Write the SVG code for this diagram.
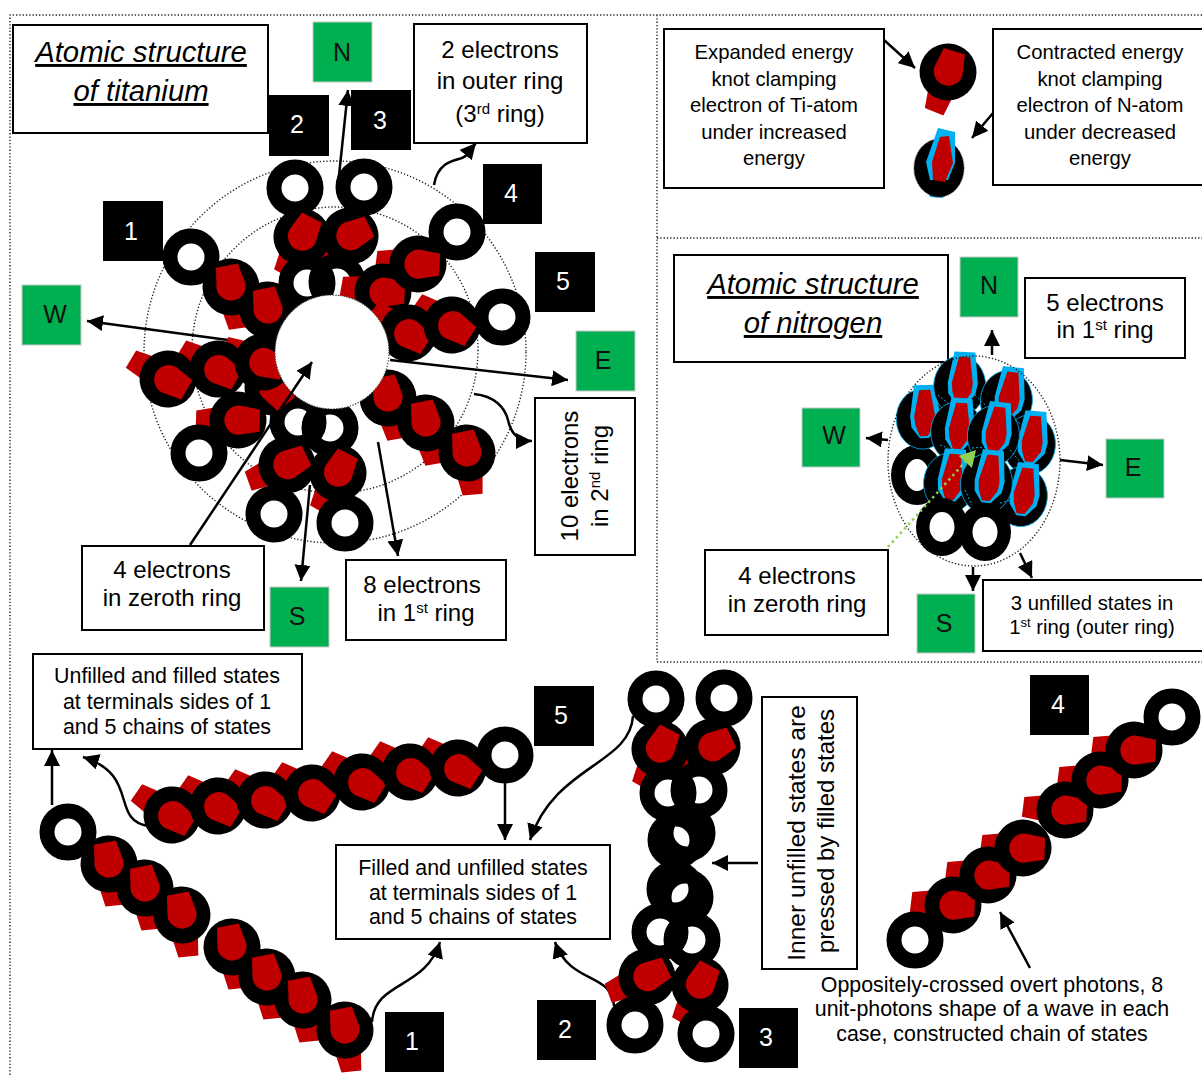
<svg xmlns="http://www.w3.org/2000/svg" width="1202" height="1076" viewBox="0 0 1202 1076">
<style>
text{font-family:"Liberation Sans",Arial,sans-serif;fill:#000;text-anchor:middle}
.b{fill:#fff;stroke:#000;stroke-width:2}
.g{fill:#00b050;stroke:#c8c8c8;stroke-width:1}
.k{fill:#000}
.w{fill:#fff;font-size:25px}
.gt{font-size:25px;fill:#111}
.t24{font-size:24px}
.t20{font-size:20.3px}
.t21{font-size:21.4px}
.h{font-size:29.3px;font-style:italic;text-decoration:underline}
.a{fill:none;stroke:#000;stroke-width:2.500;marker-end:url(#ah)}
.d{fill:none;stroke:#222;stroke-width:1.400;stroke-dasharray:1.300 2}
</style>
<defs>
<marker id="ah" markerUnits="userSpaceOnUse" markerWidth="18" markerHeight="16" refX="16" refY="8" orient="auto"><path d="M0,0L16,8L0,16z" fill="#000"/></marker>
<marker id="ag" markerUnits="userSpaceOnUse" markerWidth="18" markerHeight="18" refX="16" refY="9" orient="auto"><path d="M0,0L16,9L0,18z" fill="#92d050"/></marker>
<path id="t" d="M-13,18L-8,42L12,42L14,18z" fill="#c00000"/>
<g id="f"><circle r="28.500" fill="#000"/><path d="M-14,-20L8,-23L14.500,-3A14.500,14.500 0 0 1 -14.500,1z" fill="#c00000"/></g>
<circle id="o" r="21" fill="none" stroke="#000" stroke-width="15"/>
<circle id="h" r="14" fill="#fff"/>
<g id="n"><ellipse cx="-3" cy="6" rx="26" ry="30" fill="#000" stroke="#00b0f0" stroke-width=".8"/><path d="M-10,-28L11,-28L15,3L13,14L3,25L-6,25L-14,14L-15,3z" fill="#00b0f0"/><path d="M-5,-23L6,-23L10,3L9,12L2,23L-6,23L-10,12L-11,3z" fill="#c00000"/></g>
</defs>
<rect width="1202" height="1076" fill="#fff"/>
<g id="frame">
<path class="d" d="M1202,15H10V1076M657,15V662M657,238H1202M657,662H1202"/>
</g>
<g id="titanium-orbits">
<circle class="d" cx="335" cy="352" r="191"/>
<circle class="d" cx="335" cy="350" r="143"/>
</g>
<g id="connectors-under">
<path class="a" d="M338,185L348,90"/>
<path class="a" d="M228,340L87,321"/>
<path class="a" d="M390,360L568,380"/>
<path class="a" d="M310,485L301,581"/>
<path class="a" d="M378,442L398,556"/>
<path class="a" d="M434,185C438,160 458,160 462,158C470,155 470,150 476,143"/>
<path class="a" d="M474,394C495,396 505,408 508,420C511,435 520,441 532,441"/>
</g>
<g id="ti-chain-1">
<use href="#t" transform="translate(231,287) rotate(-8)"/><use href="#t" transform="translate(268,310) rotate(-8)"/>
<use href="#h" x="191" y="257"/><use href="#o" x="191" y="257"/>
<use href="#f" transform="translate(231,287) rotate(-3)"/><use href="#f" transform="translate(268,310) rotate(-3)"/>
</g>
<g id="ti-chain-2">
<use href="#t" transform="translate(302,237) rotate(30)"/><use href="#t" transform="translate(350,236) rotate(70)"/>
<use href="#h" x="295" y="188"/><use href="#o" x="295" y="188"/><use href="#h" x="364" y="187"/><use href="#o" x="364" y="187"/>
<use href="#h" x="307" y="283"/><use href="#h" x="337" y="282"/><use href="#o" x="307" y="283"/><use href="#o" x="337" y="282"/>
<use href="#f" transform="translate(302,237) rotate(35)"/><use href="#f" transform="translate(350,236) rotate(72)"/>
</g>
<g id="ti-chain-3">
<use href="#t" transform="translate(418,264) rotate(97)"/><use href="#t" transform="translate(383,292) rotate(100)"/>
<use href="#h" x="457" y="232"/><use href="#o" x="457" y="232"/>
<use href="#f" transform="translate(383,292) rotate(100)"/><use href="#f" transform="translate(418,264) rotate(100)"/>
</g>
<g id="ti-chain-4">
<use href="#t" transform="translate(408,333) rotate(125)"/><use href="#t" transform="translate(452,325) rotate(125)"/>
<use href="#h" x="502" y="317"/><use href="#o" x="502" y="317"/>
<use href="#f" transform="translate(408,333) rotate(130)"/><use href="#f" transform="translate(452,325) rotate(130)"/>
</g>
<g id="ti-chain-5">
<use href="#t" transform="translate(388,398) rotate(-10)"/><use href="#t" transform="translate(426,423) rotate(-10)"/><use href="#t" transform="translate(467,453) rotate(-5)"/>
<use href="#f" transform="translate(388,398) rotate(-3)"/><use href="#f" transform="translate(426,423) rotate(-3)"/><use href="#f" transform="translate(467,453) rotate(-3)"/>
</g>
<g id="ti-chain-6">
<use href="#t" transform="translate(287,465) rotate(70)"/><use href="#t" transform="translate(338,473) rotate(30)"/>
<use href="#h" x="298" y="422"/><use href="#h" x="330" y="428"/><use href="#o" x="298" y="422"/><use href="#o" x="330" y="428"/>
<use href="#h" x="274" y="514"/><use href="#o" x="274" y="514"/><use href="#h" x="345" y="523"/><use href="#o" x="345" y="523"/>
<use href="#f" transform="translate(287,465) rotate(72)"/><use href="#f" transform="translate(338,473) rotate(35)"/>
</g>
<g id="ti-chain-7">
<use href="#t" transform="translate(168,379) rotate(121)"/><use href="#t" transform="translate(218,369) rotate(121)"/><use href="#t" transform="translate(263,362) rotate(115)"/>
<use href="#f" transform="translate(168,379) rotate(128)"/><use href="#f" transform="translate(273,387) rotate(150)"/><use href="#f" transform="translate(218,369) rotate(128)"/><use href="#f" transform="translate(263,362) rotate(118)"/>
</g>
<g id="ti-chain-8">
<use href="#t" transform="translate(238,420) rotate(92)"/>
<use href="#h" x="199" y="453"/><use href="#o" x="199" y="453"/>
<use href="#f" transform="translate(238,420) rotate(100)"/>
</g>
<g id="ti-core"><circle cx="332" cy="352" r="57" fill="#fff" stroke="#444" stroke-width="1.200" stroke-dasharray="1.300 1.500"/></g>
<g id="connectors-top">
<path class="a" d="M190,545L312,362"/>
<path class="a" d="M884,40L915,68"/>
<path class="a" d="M993,113L972,138"/>
</g>
<g id="box-title-ti"><rect class="b" x="13" y="25" width="255" height="108"/><text class="h" x="141" y="62">Atomic structure</text><text class="h" x="141" y="101">of titanium</text></g>
<g id="green-n"><rect class="g" x="313" y="22" width="59" height="60"/><text class="gt" x="342" y="61">N</text></g>
<g id="label-2"><rect class="k" x="269" y="95" width="60" height="61"/><text class="w" x="297" y="133">2</text></g>
<g id="label-3"><rect class="k" x="351" y="90" width="60" height="60"/><text class="w" x="380" y="129">3</text></g>
<g id="label-1"><rect class="k" x="103" y="201" width="60" height="60"/><text class="w" x="131" y="240">1</text></g>
<g id="label-4"><rect class="k" x="483" y="164" width="59" height="60"/><text class="w" x="511" y="202">4</text></g>
<g id="label-5"><rect class="k" x="535" y="252" width="60" height="60"/><text class="w" x="563" y="290">5</text></g>
<g id="box-2e"><rect class="b" x="414" y="24" width="173" height="119"/><text class="t24" x="500" y="58">2 electrons</text><text class="t24" x="500" y="89">in outer ring</text><text class="t24" x="500" y="122">(3<tspan font-size="15" dy="-8">rd</tspan><tspan dy="8"> ring)</tspan></text></g>
<g id="green-w"><rect class="g" x="22" y="285" width="59" height="60"/><text class="gt" x="55" y="323">W</text></g>
<g id="green-e"><rect class="g" x="576" y="331" width="59" height="60"/><text class="gt" x="603" y="369">E</text></g>
<g id="green-s"><rect class="g" x="270" y="587" width="59" height="60"/><text class="gt" x="297" y="625">S</text></g>
<g id="box-10e"><rect class="b" x="535" y="398" width="100" height="157"/><text class="t24" transform="translate(578,476) rotate(-90)">10 electrons</text><text class="t24" transform="translate(608,476) rotate(-90)">in 2<tspan font-size="15" dy="-8">nd</tspan><tspan dy="8"> ring</tspan></text></g>
<g id="box-4e"><rect class="b" x="82" y="546" width="182" height="84"/><text class="t24" x="172" y="578">4 electrons</text><text class="t24" x="172" y="606">in zeroth ring</text></g>
<g id="box-8e"><rect class="b" x="346" y="560" width="160" height="80"/><text class="t24" x="422" y="593">8 electrons</text><text class="t24" x="426" y="621">in 1<tspan font-size="15" dy="-8">st</tspan><tspan dy="8"> ring</tspan></text></g>

<g id="box-expanded"><rect class="b" x="664" y="29" width="220" height="159"/><text class="t20" x="774" y="59">Expanded energy</text><text class="t20" x="774" y="86">knot clamping</text><text class="t20" x="774" y="112">electron of Ti-atom</text><text class="t20" x="774" y="139">under increased</text><text class="t20" x="774" y="165">energy</text></g>
<g id="box-contracted"><rect class="b" x="993" y="29" width="212" height="156"/><text class="t20" x="1100" y="59">Contracted energy</text><text class="t20" x="1100" y="86">knot clamping</text><text class="t20" x="1100" y="112">electron of N-atom</text><text class="t20" x="1100" y="139">under decreased</text><text class="t20" x="1100" y="165">energy</text></g>
<g id="state-expanded"><use href="#t" transform="translate(948,72) rotate(22)"/><use href="#f" transform="translate(948,72) rotate(25)"/></g>
<g id="state-contracted"><path d="M927,190L945,192L943,198L930,197z" fill="#00b0f0"/><ellipse cx="939" cy="168" rx="25" ry="29" fill="#000" stroke="#333" stroke-dasharray="1 1"/><path d="M938,128L955,132L955,163L948,180L930,180L926,162z" fill="#00b0f0"/><path d="M940,137L949,136L953,163L945,182L933,180L932,162z" fill="#c00000"/></g>

<g id="box-title-n"><rect class="b" x="674" y="255" width="274" height="107"/><text class="h" x="813" y="294">Atomic structure</text><text class="h" x="813" y="333">of nitrogen</text></g>
<g id="green-n2"><rect class="g" x="960" y="257" width="58" height="60"/><text class="gt" x="989" y="294">N</text></g>
<g id="box-5e"><rect class="b" x="1025" y="278" width="160" height="80"/><text class="t24" x="1105" y="311">5 electrons</text><text class="t24" x="1105" y="338">in 1<tspan font-size="15" dy="-8">st</tspan><tspan dy="8"> ring</tspan></text></g>
<g id="green-w2"><rect class="g" x="802" y="408" width="58" height="59"/><text class="gt" x="834" y="444">W</text></g>
<g id="green-e2"><rect class="g" x="1106" y="439" width="58" height="59"/><text class="gt" x="1133" y="476">E</text></g>
<g id="green-s2"><rect class="g" x="917" y="594" width="58" height="59"/><text class="gt" x="944" y="632">S</text></g>
<g id="box-4e2"><rect class="b" x="705" y="550" width="183" height="85"/><text class="t24" x="797" y="584">4 electrons</text><text class="t24" x="797" y="612">in zeroth ring</text></g>
<g id="box-3u"><rect class="b" x="983" y="580" width="221" height="71"/><text class="t20" x="1092" y="610">3 unfilled states in</text><text class="t20" x="1092" y="634">1<tspan font-size="13" dy="-7">st</tspan><tspan dy="7"> ring (outer ring)</tspan></text></g>
<g id="n-connectors">
<path class="a" d="M992,355L992,330"/>
<path class="a" d="M888,440L866,438"/>
<path class="a" d="M1060,460L1103,465"/>
<path class="a" d="M973,567L973,591"/>
<path class="a" d="M1020,553L1032,578"/>
</g>
<g id="nitrogen-atom">
<ellipse cx="917" cy="475" rx="26" ry="30" fill="#000"/><ellipse cx="917" cy="475" rx="12" ry="16" fill="#fff"/>
<use href="#n" transform="translate(925,413) rotate(-2)"/>
<use href="#n" transform="translate(963,380) rotate(3)"/>
<use href="#n" transform="translate(1010,395) rotate(6)"/>
<use href="#n" transform="translate(1033,439) rotate(5)"/>
<use href="#n" transform="translate(960,426) rotate(3)"/>
<use href="#n" transform="translate(997,430) rotate(6)"/>
<use href="#n" transform="translate(953,477) rotate(4)"/>
<use href="#n" transform="translate(1025,491) rotate(6)"/>
<use href="#n" transform="translate(990,478) rotate(6)"/>
<ellipse cx="942" cy="527" rx="26" ry="29" fill="#000"/><ellipse cx="942" cy="527" rx="12.500" ry="15" fill="#fff"/>
<ellipse cx="985" cy="532" rx="26" ry="29" fill="#000"/><ellipse cx="985" cy="532" rx="12.500" ry="15" fill="#fff"/>
<path d="M938,395L950,405M975,395L985,405M940,445L948,448M972,448L985,447M1010,450L1020,462M1015,420L1022,425M965,490L972,505M1000,503L1012,500" fill="none" stroke="#00b0f0" stroke-width="1" stroke-dasharray="2 2"/>
<ellipse class="d" cx="974" cy="461" rx="86" ry="105"/>
<path d="M888,547L976,450" fill="none" stroke="#92d050" stroke-width="2.500" stroke-dasharray="2.500 3.500" marker-end="url(#ag)"/>
</g>

<g id="bottom-connectors">
<path class="a" d="M52,805L52,750"/>
<path class="a" d="M148,826C110,820 140,775 83,757"/>
<path class="a" d="M505,757L505,840"/>
<path class="a" d="M633,716C630,765 555,765 530,840"/>
<path class="a" d="M372,1022C375,980 425,990 440,942"/>
<path class="a" d="M614,1006C612,972 570,985 555,942"/>
<path class="a" d="M758,863L712,863"/>
<path class="a" d="M1030,968L1000,912"/>
</g>
<g id="box-unfilled"><rect class="b" x="33" y="654" width="269" height="95"/><text class="t21" x="167" y="683">Unfilled and filled states</text><text class="t21" x="167" y="709">at terminals sides of 1</text><text class="t21" x="167" y="734">and 5 chains of states</text></g>
<g id="label-b5"><rect class="k" x="534" y="686" width="60" height="60"/><text class="w" x="561" y="724">5</text></g>
<g id="box-filled"><rect class="b" x="336" y="845" width="274" height="94"/><text class="t21" x="473" y="875">Filled and unfilled states</text><text class="t21" x="473" y="900">at terminals sides of 1</text><text class="t21" x="473" y="924">and 5 chains of states</text></g>
<g id="box-inner"><rect class="b" x="762" y="697" width="95" height="272"/><text style="font-size:24.600px" transform="translate(805,833) rotate(-90)">Inner unfilled states are</text><text class="t24" transform="translate(834,831) rotate(-90)">pressed by filled states</text></g>
<g id="label-b4"><rect class="k" x="1030" y="675" width="59" height="60"/><text class="w" x="1058" y="713">4</text></g>
<g id="label-b1"><rect class="k" x="385" y="1012" width="59" height="60"/><text class="w" x="412" y="1050">1</text></g>
<g id="label-b2"><rect class="k" x="537" y="1000" width="59" height="60"/><text class="w" x="565" y="1038">2</text></g>
<g id="label-b3"><rect class="k" x="739" y="1008" width="59" height="60"/><text class="w" x="766" y="1046">3</text></g>
<g id="note"><text class="t21" x="992" y="992">Oppositely-crossed overt photons, 8</text><text class="t21" x="992" y="1016">unit-photons shape of a wave in each</text><text class="t21" x="992" y="1041">case, constructed chain of states</text></g>

<g id="chain-1">
<use href="#t" transform="translate(109,864) rotate(-6)"/><use href="#t" transform="translate(145,888) rotate(-6)"/><use href="#t" transform="translate(182,915) rotate(-6)"/><use href="#t" transform="translate(232,947) rotate(-6)"/><use href="#t" transform="translate(267,977) rotate(-6)"/><use href="#t" transform="translate(303,1000) rotate(-6)"/><use href="#t" transform="translate(345,1030) rotate(-6)"/>
<use href="#h" x="68" y="832"/><use href="#o" x="68" y="832"/>
<use href="#f" transform="translate(109,864) rotate(-3)"/><use href="#f" transform="translate(145,888) rotate(-3)"/><use href="#f" transform="translate(182,915) rotate(-3)"/><use href="#f" transform="translate(232,947) rotate(-3)"/><use href="#f" transform="translate(267,977) rotate(-3)"/><use href="#f" transform="translate(303,1000) rotate(-3)"/><use href="#f" transform="translate(345,1030) rotate(-3)"/>
</g>
<g id="chain-5">
<use href="#t" transform="translate(458,768) rotate(125)"/><use href="#t" transform="translate(410,772) rotate(125)"/><use href="#t" transform="translate(362,782) rotate(125)"/><use href="#t" transform="translate(312,793) rotate(125)"/><use href="#t" transform="translate(265,800) rotate(125)"/><use href="#t" transform="translate(218,806) rotate(125)"/><use href="#t" transform="translate(172,815) rotate(125)"/>
<use href="#h" x="505" y="755"/><use href="#o" x="505" y="755"/>
<use href="#f" transform="translate(172,815) rotate(130)"/><use href="#f" transform="translate(218,806) rotate(130)"/><use href="#f" transform="translate(265,800) rotate(130)"/><use href="#f" transform="translate(312,793) rotate(130)"/><use href="#f" transform="translate(362,782) rotate(130)"/><use href="#f" transform="translate(410,772) rotate(130)"/><use href="#f" transform="translate(458,768) rotate(130)"/>
</g>
<g id="chain-vertical">
<use href="#t" transform="translate(660,749) rotate(30)"/><use href="#t" transform="translate(712,747) rotate(70)"/><use href="#t" transform="translate(647,977) rotate(70)"/><use href="#t" transform="translate(700,985) rotate(30)"/>
<use href="#h" x="656" y="699"/><use href="#o" x="656" y="699"/><use href="#h" x="724" y="698"/><use href="#o" x="724" y="698"/>
<use href="#h" x="668" y="793"/><use href="#h" x="699" y="790"/><use href="#o" x="668" y="793"/><use href="#o" x="699" y="790"/>
<use href="#h" x="676" y="840"/><use href="#h" x="687" y="833"/><use href="#o" x="676" y="840"/><use href="#o" x="687" y="833"/>
<use href="#h" x="675" y="889"/><use href="#h" x="685" y="897"/><use href="#o" x="675" y="889"/><use href="#o" x="685" y="897"/>
<use href="#h" x="660" y="932"/><use href="#h" x="692" y="940"/><use href="#o" x="660" y="932"/><use href="#o" x="692" y="940"/>
<use href="#h" x="635" y="1025"/><use href="#o" x="635" y="1025"/><use href="#h" x="706" y="1034"/><use href="#o" x="706" y="1034"/>
<use href="#f" transform="translate(660,749) rotate(35)"/><use href="#f" transform="translate(712,747) rotate(72)"/><use href="#f" transform="translate(647,977) rotate(72)"/><use href="#f" transform="translate(700,985) rotate(35)"/>
</g>
<g id="chain-4">
<use href="#t" transform="translate(1134,750) rotate(97)"/><use href="#t" transform="translate(1100,780) rotate(97)"/><use href="#t" transform="translate(1065,810) rotate(97)"/><use href="#t" transform="translate(1023,848) rotate(97)"/><use href="#t" transform="translate(988,875) rotate(97)"/><use href="#t" transform="translate(953,905) rotate(97)"/>
<use href="#h" x="1172" y="717"/><use href="#o" x="1172" y="717"/><use href="#h" x="915" y="940"/><use href="#o" x="915" y="940"/>
<use href="#f" transform="translate(953,905) rotate(100)"/><use href="#f" transform="translate(988,875) rotate(100)"/><use href="#f" transform="translate(1023,848) rotate(100)"/><use href="#f" transform="translate(1065,810) rotate(100)"/><use href="#f" transform="translate(1100,780) rotate(100)"/><use href="#f" transform="translate(1134,750) rotate(100)"/>
</g>
</svg>
